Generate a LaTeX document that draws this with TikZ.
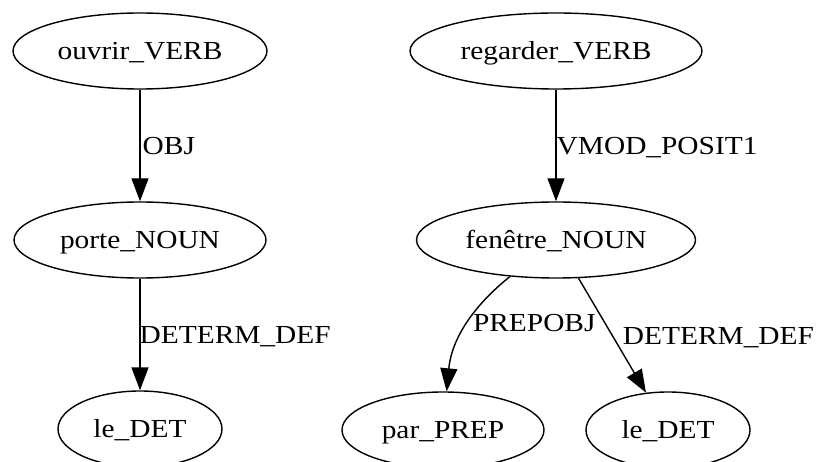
\documentclass[tikz,border=0pt]{standalone}
\usepackage{fontspec}
\setmainfont{Liberation Serif}[FakeStretch=1.13]
\usetikzlibrary{shapes.geometric,arrows.meta}
\tikzset{
  tok/.style={ellipse, draw, line width=1.4pt, inner sep=0pt, minimum height=76pt,
    font=\fontsize{26}{30}\selectfont, text height=17.3pt, text depth=0pt},
  rel/.style={line width=1.4pt, -{Triangle[length=23pt,width=17pt]}},
  lab/.style={anchor=west, inner sep=0pt, font=\fontsize{26}{30}\selectfont,
    text height=17.3pt, text depth=0pt}
}
\begin{document}
\begin{tikzpicture}[x=1pt,y=-1pt]
\useasboundingbox (0,0) rectangle (816,462);
% left tree
\node[tok, minimum width=254pt] (ouvrir) at (140,51) {ouvrir\_VERB};
\node[tok, minimum width=252pt] (porte) at (140,240) {porte\_NOUN};
\node[tok, minimum width=164pt] (le1) at (140,429) {le\_DET};
% right tree
\node[tok, minimum width=292pt] (regarder) at (556,51) {regarder\_VERB};
\node[tok, minimum width=279pt] (fen) at (556,240) {fenêtre\_NOUN};
\node[tok, minimum width=202pt] (par) at (443,430) {par\_PREP};
\node[tok, minimum width=164pt] (le2) at (668,430) {le\_DET};
% edges
\draw[rel] (ouvrir) -- node[lab, xshift=2pt] {OBJ} (porte);
\draw[rel] (porte) -- node[lab, xshift=-1pt] {DETERM\_DEF} (le1);
\draw[rel] (regarder) -- node[lab, xshift=0pt] {VMOD\_POSIT1} (fen);
\draw[rel] (fen) .. controls (478,302) and (452,335) .. node[lab, pos=0.5, xshift=4pt] {PREPOBJ} (par);
\draw[rel] (fen) -- node[lab, xshift=10pt] {DETERM\_DEF} (le2);
\end{tikzpicture}
\end{document}
